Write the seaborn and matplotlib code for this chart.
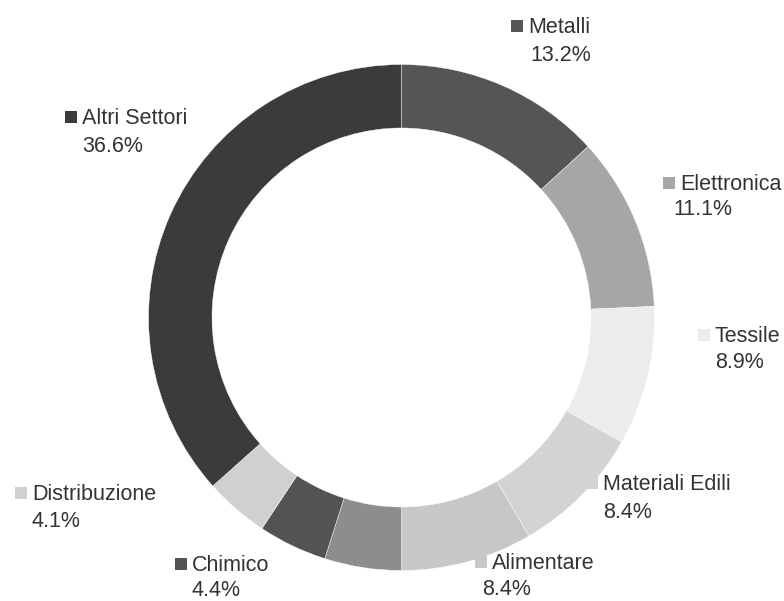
import matplotlib
matplotlib.use("Agg")
import matplotlib.pyplot as plt
import seaborn as sns

# Sector shares (%) clockwise from 12 o'clock
sectors = ["Metalli", "Elettronica", "Tessile", "Materiali Edili", "Alimentare",
           "", "Chimico", "Distribuzione", "Altri Settori"]
shares = [13.2, 11.1, 8.9, 8.4, 8.4, 4.9, 4.4, 4.1, 36.6]
grays = ["#555555", "#a6a6a6", "#ececec", "#d3d3d3", "#c7c7c7",
         "#8d8d8d", "#535353", "#d0d0d0", "#3b3b3b"]

# label layout in pixels from the top-left: name x, name baseline, pct x, pct baseline
label_layout = {
    "Metalli": (528, 33, 530, 61),
    "Elettronica": (680, 190, 673, 215),
    "Tessile": (715, 342, 715, 368),
    "Materiali Edili": (603, 490, 603, 518),
    "Alimentare": (492, 569, 482, 595),
    "Chimico": (192, 571, 192, 596),
    "Distribuzione": (32, 500, 32, 527),
    "Altri Settori": (82, 124, 82, 152),
}

W, H = 784, 601
sns.set_theme(style="white")
plt.rcParams["font.family"] = ["Liberation Sans", "DejaVu Sans"]

fig = plt.figure(figsize=(W / 100, H / 100), dpi=100)
ax = fig.add_axes([0, 0, 1, 1])

ax.pie(shares, colors=grays, startangle=90, counterclock=False,
       center=(401.5, H - 317.5), radius=253,
       wedgeprops=dict(width=63.5, edgecolor="white", linewidth=0.3))

ax.set_xlim(0, W)
ax.set_ylim(0, H)
ax.set_aspect("equal")
ax.axis("off")

txt_color = "#333333"
for name, share, color in zip(sectors, shares, grays):
    if not name:
        continue
    nx, ny, px, py = label_layout[name]
    ax.scatter([nx - 10.5], [H - (ny - 7)], marker="s", s=85, color=color,
               linewidths=0)
    ax.text(nx, H - ny, name, fontsize=15.5, color=txt_color,
            ha="left", va="baseline")
    ax.text(px, H - py, f"{share:.1f}%", fontsize=15.5, color=txt_color,
            ha="left", va="baseline")

fig.savefig("out.png", dpi=100)
